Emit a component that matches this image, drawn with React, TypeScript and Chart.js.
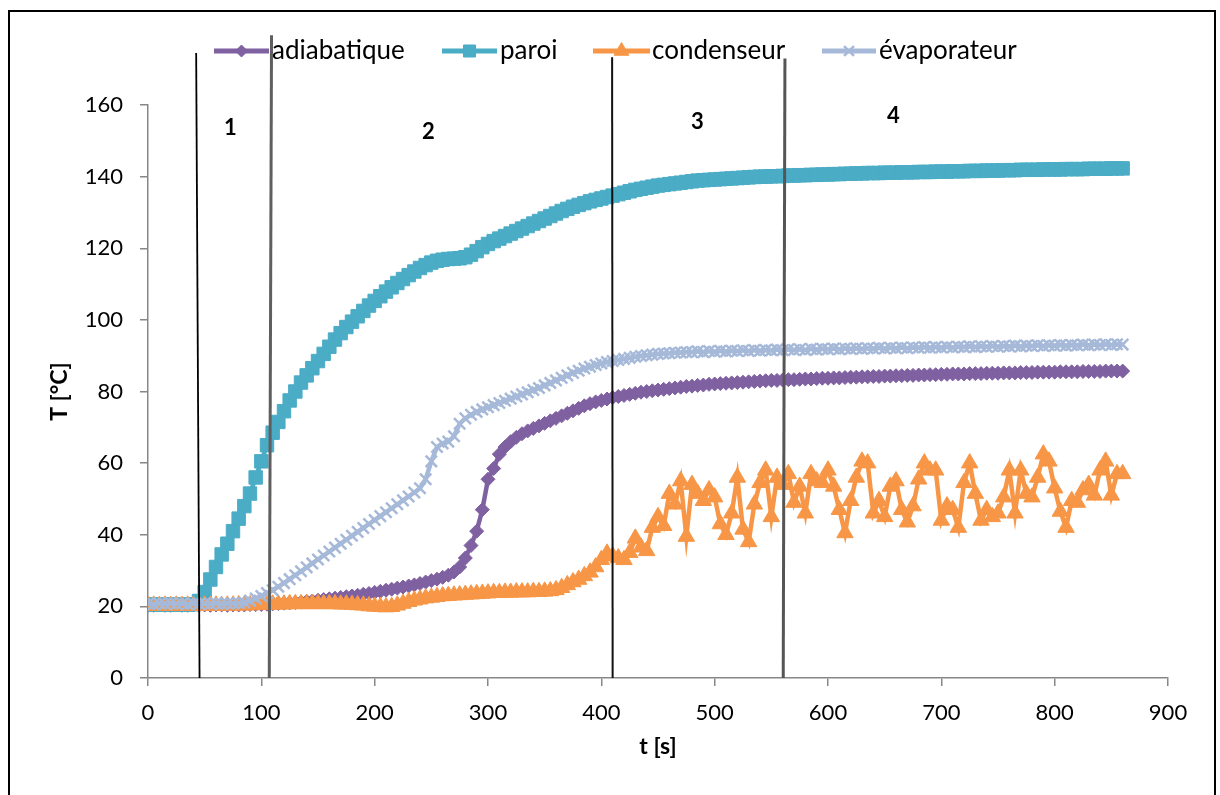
import React, { useEffect, useRef } from "react";
import { Chart, registerables } from "chart.js";
import { drawPoint } from "chart.js/helpers";

Chart.register(...registerables);

const FONT = 'Lato, "Open Sans", "DejaVu Sans", sans-serif';

// time axis [s]
const times = [
  0, 5, 10, 15, 20, 25, 30, 35, 40, 45,
  50, 55, 60, 65, 70, 75, 80, 85, 90, 95,
  100, 105, 110, 115, 120, 125, 130, 135, 140, 145,
  150, 155, 160, 165, 170, 175, 180, 185, 190, 195,
  200, 205, 210, 215, 220, 225, 230, 235, 240, 245,
  250, 255, 260, 265, 270, 275, 280, 285, 290, 295,
  300, 305, 310, 315, 320, 325, 330, 335, 340, 345,
  350, 355, 360, 365, 370, 375, 380, 385, 390, 395,
  400, 405, 410, 415, 420, 425, 430, 435, 440, 445,
  450, 455, 460, 465, 470, 475, 480, 485, 490, 495,
  500, 505, 510, 515, 520, 525, 530, 535, 540, 545,
  550, 555, 560, 565, 570, 575, 580, 585, 590, 595,
  600, 605, 610, 615, 620, 625, 630, 635, 640, 645,
  650, 655, 660, 665, 670, 675, 680, 685, 690, 695,
  700, 705, 710, 715, 720, 725, 730, 735, 740, 745,
  750, 755, 760, 765, 770, 775, 780, 785, 790, 795,
  800, 805, 810, 815, 820, 825, 830, 835, 840, 845,
  850, 855, 860,
];

const adiabatique = [
  20.3, 20.3, 20.4, 20.3, 20.3, 20.4, 20.3, 20.3, 20.4, 20.3,
  20.4, 20.3, 20.4, 20.4, 20.3, 20.4, 20.4, 20.4, 20.5, 20.5,
  20.5, 20.6, 20.7, 20.8, 20.9, 21, 21.1, 21.2, 21.4, 21.5,
  21.7, 21.9, 22.1, 22.3, 22.5, 22.7, 22.9, 23.1, 23.4, 23.6,
  23.9, 24.2, 24.5, 24.8, 25.1, 25.4, 25.7, 26, 26.4, 26.8,
  27.2, 27.6, 28.1, 28.7, 29.6, 31, 33.5, 37, 41, 47,
  55.5, 58.5, 62.5, 64.5, 66, 67.2, 68.2, 69, 69.7, 70.4,
  71.1, 71.8, 72.5, 73.2, 73.9, 74.6, 75.3, 76, 76.6, 77.1,
  77.5, 77.9, 78.3, 78.6, 78.9, 79.2, 79.5, 79.8, 80, 80.2,
  80.4, 80.6, 80.8, 81, 81.2, 81.4, 81.5, 81.7, 81.8, 82,
  82.1, 82.2, 82.3, 82.4, 82.5, 82.6, 82.7, 82.8, 82.9, 83,
  83.1, 83.1, 83.2, 83.3, 83.3, 83.4, 83.5, 83.5, 83.6, 83.7,
  83.7, 83.8, 83.8, 83.9, 84, 84, 84.1, 84.1, 84.2, 84.2,
  84.3, 84.3, 84.4, 84.4, 84.5, 84.5, 84.6, 84.6, 84.7, 84.7,
  84.8, 84.8, 84.9, 84.9, 84.9, 85, 85, 85, 85.1, 85.1,
  85.1, 85.2, 85.2, 85.2, 85.3, 85.3, 85.3, 85.4, 85.4, 85.4,
  85.4, 85.5, 85.5, 85.5, 85.5, 85.6, 85.6, 85.6, 85.6, 85.7,
  85.7, 85.7, 85.7,
];

const paroi = [
  20.5, 20.5, 20.5, 20.5, 20.5, 20.5, 20.5, 20.5, 20.6, 21.5,
  24, 27.5, 31, 34.5, 37.5, 41, 44.5, 48, 51.5, 56,
  60.5, 65, 68.5, 71.5, 74.5, 77.5, 80, 82.5, 84.5, 86.5,
  88.5, 90.5, 92.5, 94.5, 96.3, 98, 99.5, 101, 102.5, 104,
  105.3, 106.6, 107.9, 109.1, 110.3, 111.4, 112.5, 113.5, 114.5, 115.3,
  116, 116.5, 116.8, 117, 117.1, 117.2, 117.5, 118.2, 119.2, 120.3,
  121.2, 122, 122.7, 123.4, 124.1, 124.8, 125.5, 126.2, 126.9, 127.6,
  128.3, 129, 129.7, 130.4, 131, 131.6, 132.1, 132.6, 133.1, 133.5,
  133.9, 134.3, 134.7, 135.1, 135.5, 135.9, 136.3, 136.6, 136.9, 137.2,
  137.5, 137.7, 137.9, 138.1, 138.3, 138.5, 138.7, 138.9, 139, 139.1,
  139.2, 139.3, 139.4, 139.5, 139.6, 139.7, 139.8, 139.9, 140, 140,
  140.1, 140.1, 140.2, 140.3, 140.3, 140.4, 140.4, 140.5, 140.5, 140.6,
  140.6, 140.7, 140.7, 140.8, 140.8, 140.9, 140.9, 141, 141, 141,
  141.1, 141.1, 141.1, 141.2, 141.2, 141.2, 141.3, 141.3, 141.3, 141.4,
  141.4, 141.4, 141.5, 141.5, 141.5, 141.6, 141.6, 141.6, 141.7, 141.7,
  141.7, 141.8, 141.8, 141.8, 141.9, 141.9, 141.9, 141.9, 142, 142,
  142, 142, 142.1, 142.1, 142.1, 142.1, 142.2, 142.2, 142.2, 142.2,
  142.3, 142.3, 142.3,
];

const condenseur = [
  20.2, 20.3, 20.2, 20.3, 20.2, 20.3, 20.2, 20.3, 20.2, 20.3,
  20.3, 20.2, 20.3, 20.2, 20.3, 20.3, 20.4, 20.3, 20.4, 20.4,
  20.5, 20.5, 20.6, 20.6, 20.6, 20.7, 20.7, 20.7, 20.7, 20.7,
  20.7, 20.7, 20.7, 20.7, 20.6, 20.6, 20.5, 20.4, 20.3, 20.1,
  20, 19.9, 19.8, 19.9, 20.3, 20.8, 21.3, 21.7, 22, 22.3,
  22.5, 22.7, 22.9, 23, 23.1, 23.2, 23.3, 23.4, 23.5, 23.6,
  23.7, 23.8, 23.8, 23.9, 23.9, 24, 24, 24, 24.1, 24.1,
  24.2, 24.3, 24.6, 25.2, 26, 26.8, 27.5, 28.5, 29.5, 31,
  33, 34.8, 34, 33.5, 33, 35, 39, 36.5, 35.5, 42,
  45, 42.5, 51.5, 48.5, 55, 39.5, 54, 51.5, 49.5, 52.5,
  50.5, 43, 40, 46, 56, 41.5, 38, 48.5, 54.5, 58,
  45, 56, 54, 57, 49, 53.5, 46, 57, 55, 54.5,
  58, 53.5, 47, 40.5, 49.5, 56, 60.5, 60, 46, 49.5,
  45, 53.5, 55, 47, 43.5, 48, 55.5, 60, 58, 58,
  44, 48, 47, 42, 54.5, 60, 51.5, 44, 47, 45,
  46, 50.5, 58, 46, 58, 51.5, 50.5, 56, 62.5, 60.5,
  53, 46.5, 42, 49.5, 49, 52.5, 54, 51, 58, 60.5,
  51, 57, 57,
];

const evaporateur = [
  20.8, 20.6, 20.8, 20.7, 20.9, 20.7, 20.8, 20.6, 20.8, 20.7,
  20.8, 20.7, 20.9, 20.7, 20.8, 20.8, 20.9, 21.1, 21.6, 22.2,
  22.9, 23.7, 24.5, 25.5, 26.5, 27.6, 28.7, 29.8, 30.9, 32,
  33.1, 34.2, 35.3, 36.4, 37.5, 38.6, 39.7, 40.8, 41.9, 43,
  44.1, 45.2, 46.3, 47.4, 48.5, 49.6, 50.7, 51.8, 53, 55.5,
  60.5, 64.5, 65.5, 66, 67.5, 71, 72.5, 73.5, 74.3, 75,
  75.6, 76.2, 76.8, 77.4, 78, 78.6, 79.2, 79.8, 80.4, 81,
  81.7, 82.4, 83.1, 83.8, 84.5, 85.2, 85.8, 86.4, 86.9, 87.4,
  87.8, 88.2, 88.5, 88.8, 89.1, 89.4, 89.7, 89.9, 90.1, 90.3,
  90.5, 90.6, 90.7, 90.8, 90.9, 91, 91, 91.2, 91, 91.3,
  91.1, 91.4, 91.2, 91.4, 91.3, 91.5, 91.3, 91.6, 91.4, 91.6,
  91.5, 91.7, 91.5, 91.8, 91.6, 91.8, 91.6, 91.9, 91.7, 91.9,
  91.8, 92, 91.8, 92, 91.9, 92.1, 91.9, 92.1, 92, 92.2,
  92, 92.2, 92.1, 92.3, 92.1, 92.3, 92.2, 92.4, 92.2, 92.4,
  92.3, 92.5, 92.3, 92.5, 92.4, 92.6, 92.4, 92.6, 92.5, 92.7,
  92.5, 92.7, 92.6, 92.8, 92.6, 92.8, 92.7, 92.9, 92.7, 92.9,
  92.8, 93, 92.8, 93, 92.9, 93.1, 92.9, 93.1, 93, 93.2,
  93, 93.2, 93.1,
];

const seriesNames = ["adiabatique", "paroi", "condenseur", "évaporateur"];
const seriesValues = [adiabatique, paroi, condenseur, evaporateur];
const seriesColors = ["#7F60A1", "#4BACC6", "#F79646", "#A6B9D8"];
const seriesPointStyles = ["rectRot", "rect", "triangle", "crossRot"];
const seriesPointRadius = [7, 9.5, 9.5, 8];
const seriesPointBorder = [1, 1, 1, 2.5];

// phase separators (t at top, t at bottom, T at top) and phase labels
const phaseTopT = [42.5, 109, 409.5, 562];
const phaseBottomT = [45.5, 107, 410, 560.5];
const phaseTopTemp = [174.5, 179.5, 173.3, 173];
const phaseLineColors = ["#000000", "#5f5f5f", "#111111", "#555555"];
const phaseLineWidths = [1.8, 3, 2, 3];
const phaseLabels = ["1", "2", "3", "4"];
const phaseLabelT = [72.6, 247.4, 484.7, 657.7];
const phaseLabelTemp = [153.5, 152.4, 155.2, 156.9];

const xTicksMax = 900;
const yTicksMax = 160;

const legendLineX0 = [204, 432, 583, 812];
const legendLineX1 = [259, 487, 640, 866];
const legendTextX = [262, 490, 642, 869];
const legendY = 39;

const overlayPlugin = {
  id: "overlay",
  afterDatasetsDraw(chart: any) {
    const ctx = chart.ctx as CanvasRenderingContext2D;
    const x = chart.scales.x;
    const y = chart.scales.y;
    ctx.save();
    // legend
    seriesNames.forEach((name, i) => {
      ctx.strokeStyle = seriesColors[i];
      ctx.fillStyle = seriesColors[i];
      ctx.lineWidth = 5;
      ctx.lineCap = "butt";
      ctx.beginPath();
      ctx.moveTo(legendLineX0[i], legendY);
      ctx.lineTo(legendLineX1[i], legendY);
      ctx.stroke();
      ctx.lineWidth = seriesPointBorder[i];
      drawPoint(
        ctx,
        {
          pointStyle: seriesPointStyles[i] as any,
          radius: seriesPointRadius[i] - 1,
          rotation: 0,
          borderWidth: seriesPointBorder[i],
        } as any,
        (legendLineX0[i] + legendLineX1[i]) / 2,
        legendY
      );
      ctx.fillStyle = "#000";
      ctx.font = `26px ${FONT}`;
      ctx.textAlign = "left";
      ctx.textBaseline = "middle";
      ctx.fillText(name, legendTextX[i], legendY);
    });
    // phase separators
    phaseBottomT.forEach((tb, i) => {
      ctx.beginPath();
      ctx.strokeStyle = phaseLineColors[i];
      ctx.lineWidth = phaseLineWidths[i];
      ctx.moveTo(x.getPixelForValue(phaseTopT[i]), y.getPixelForValue(phaseTopTemp[i]));
      ctx.lineTo(x.getPixelForValue(tb), y.getPixelForValue(0));
      ctx.stroke();
    });
    ctx.fillStyle = "#000";
    ctx.font = `bold 22px ${FONT}`;
    ctx.textAlign = "center";
    ctx.textBaseline = "middle";
    phaseLabels.forEach((l, i) => {
      ctx.fillText(l, x.getPixelForValue(phaseLabelT[i]), y.getPixelForValue(phaseLabelTemp[i]));
    });
    ctx.restore();
  },
};

export default function App() {
  const ref = useRef<HTMLCanvasElement>(null);
  useEffect(() => {
    const datasets = seriesNames.map((name, i) => ({
      label: name,
      data: times.map((t, k) => ({ x: t, y: seriesValues[i][k] })),
      borderColor: seriesColors[i],
      backgroundColor: seriesColors[i],
      pointBackgroundColor: seriesColors[i],
      pointBorderColor: seriesColors[i],
      borderWidth: 4.5,
      pointStyle: seriesPointStyles[i],
      pointRadius: seriesPointRadius[i],
      pointBorderWidth: seriesPointBorder[i],
      tension: 0,
      order: 4 - i,
    }));
    const axisColor = "#878787";
    const chart = new Chart(ref.current!, {
      type: "line",
      data: { datasets } as any,
      options: {
        animation: false,
        responsive: false,
        devicePixelRatio: 1,
        layout: { padding: { top: 93, right: 46, left: 0, bottom: 0 } },
        plugins: { legend: { display: false }, tooltip: { enabled: false } },
        scales: {
          x: {
            type: "linear",
            min: 0,
            max: xTicksMax,
            ticks: { stepSize: 100, padding: 14, color: "#000", font: { family: FONT, size: 22 } },
            grid: { drawOnChartArea: false, drawTicks: true, tickLength: 8, color: axisColor, lineWidth: 1.5 },
            border: { color: axisColor, width: 1.5 },
            title: {
              display: true,
              text: "t [s]",
              color: "#000",
              font: { family: FONT, size: 23, weight: "bold" },
              padding: { top: 0, bottom: 37 },
            },
            afterFit: (s: any) => {
              s.height = 119;
            },
          },
          y: {
            type: "linear",
            min: 0,
            max: yTicksMax,
            ticks: { stepSize: 20, padding: 17, color: "#000", font: { family: FONT, size: 22 } },
            grid: { drawOnChartArea: false, drawTicks: true, tickLength: 8, color: axisColor, lineWidth: 1.5 },
            border: { color: axisColor, width: 1.5 },
            title: {
              display: true,
              text: "T [°C]",
              color: "#000",
              font: { family: FONT, size: 23, weight: "bold" },
              padding: { top: 36, bottom: 0 },
            },
            afterFit: (s: any) => {
              s.width = 138;
            },
          },
        },
      } as any,
      plugins: [overlayPlugin],
    });
    return () => chart.destroy();
  }, []);
  return (
    <div
      style={{
        position: "fixed",
        left: 8,
        top: 10,
        width: 1204,
        height: 800,
        border: "2px solid #000",
      }}
    >
      <canvas ref={ref} width={1204} height={785} style={{ display: "block" }} />
    </div>
  );
}
